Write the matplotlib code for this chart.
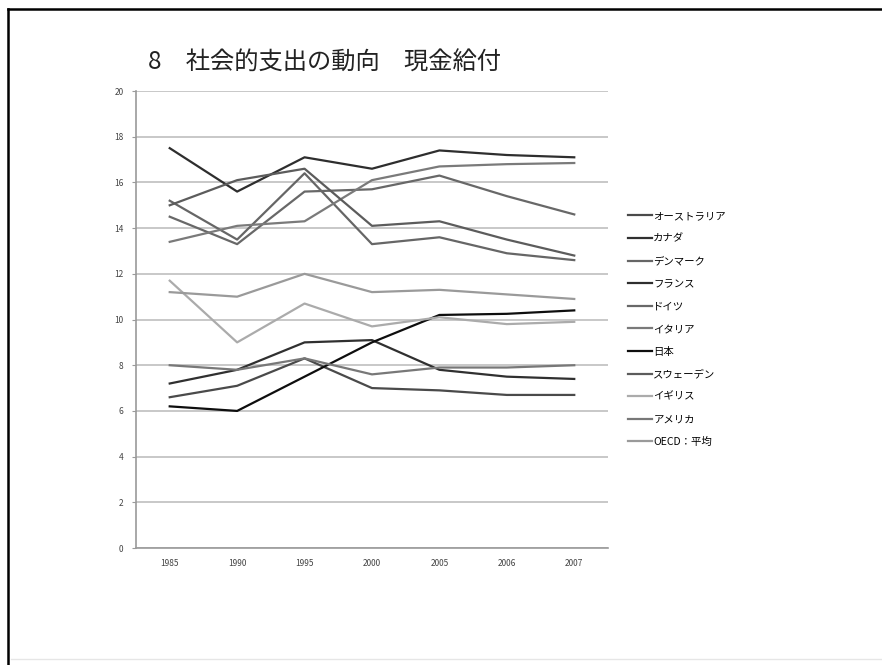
import matplotlib.pyplot as plt
from matplotlib.lines import Line2D
import numpy as np

plt.rcParams['font.family'] = ['Noto Sans CJK JP', 'DejaVu Sans']

years = ['1985', '1990', '1995', '2000', '2005', '2006', '2007']

australia = [6.6, 7.1, 8.3, 7.0, 6.9, 6.7, 6.7]
canada = [7.2, 7.8, 9.0, 9.1, 7.8, 7.5, 7.4]
denmark = [15.2, 13.5, 16.4, 13.3, 13.6, 12.9, 12.6]
france = [17.5, 15.6, 17.1, 16.6, 17.4, 17.2, 17.1]
germany = [14.5, 13.3, 15.6, 15.7, 16.3, 15.4, 14.6]
italy = [13.4, 14.1, 14.3, 16.1, 16.7, 16.8, 16.85]
japan = [6.2, 6.0, 7.5, 9.0, 10.2, 10.25, 10.4]
sweden = [15.0, 16.1, 16.6, 14.1, 14.3, 13.5, 12.8]
uk = [11.7, 9.0, 10.7, 9.7, 10.1, 9.8, 9.9]
usa = [8.0, 7.8, 8.3, 7.6, 7.9, 7.9, 8.0]
oecd = [11.2, 11.0, 12.0, 11.2, 11.3, 11.1, 10.9]

names = ['オーストラリア', 'カナダ', 'デンマーク', 'フランス', 'ドイツ', 'イタリア',
         '日本', 'スウェーデン', 'イギリス', 'アメリカ', 'OECD：平均']
series = [australia, canada, denmark, france, germany, italy,
          japan, sweden, uk, usa, oecd]
colors = ['#4a4a4a', '#303030', '#666666', '#2e2e2e', '#686868', '#7a7a7a',
          '#0e0e0e', '#5c5c5c', '#ababab', '#787878', '#9a9a9a']

fig = plt.figure(figsize=(8.82, 6.65), dpi=100)
ax = fig.add_axes([0.1542, 0.1759, 0.5351, 0.6872])

x = np.arange(len(years))
for vals, name, c in zip(series, names, colors):
    ax.plot(x, vals, color=c, lw=1.6, label=name)

ax.set_xlim(-0.5, len(years) - 0.5)
ax.set_ylim(0, 20)
ax.set_yticks(np.arange(0, 21, 2))
ax.set_xticks(x)
ax.set_xticklabels(years)
ax.yaxis.grid(True, color='#c4c4c4', lw=1.3)
ax.set_axisbelow(True)
for side in ['top', 'right']:
    ax.spines[side].set_visible(False)
for side in ['left', 'bottom']:
    ax.spines[side].set_color('#9a9a9a')
    ax.spines[side].set_linewidth(1.2)
ax.tick_params(axis='y', length=3, color='#9a9a9a', labelsize=6, labelcolor='#444444', pad=6)
ax.tick_params(axis='x', length=0, labelsize=6, labelcolor='#444444', pad=8)

ax.legend(loc='upper left', bbox_to_anchor=(0.707, 0.689), bbox_transform=fig.transFigure,
          frameon=False, fontsize=7.5, handlelength=2.3, handletextpad=0.15,
          labelspacing=1.21, borderaxespad=0)

fig.text(0.168, 0.905, '8\u3000社会的支出の動向\u3000現金給付', fontsize=17.5, color='#222222',
         va='center', ha='left')

# page border
fig.add_artist(Line2D([0.009, 1.0], [0.986, 0.986], transform=fig.transFigure,
                      color='black', lw=1.8))
fig.add_artist(Line2D([0.009, 0.009], [0.0, 0.986], transform=fig.transFigure,
                      color='black', lw=1.8))
fig.add_artist(Line2D([0.012, 1.0], [0.009, 0.009], transform=fig.transFigure,
                      color='#e6e6e6', lw=1.0))

fig.savefig('out.png', dpi=100)
